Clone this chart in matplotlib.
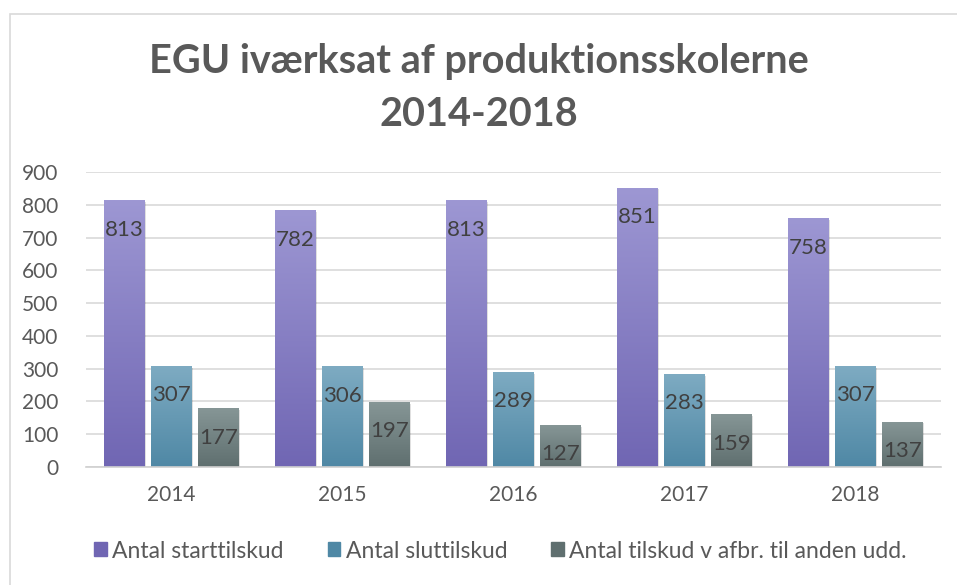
import numpy as np
import matplotlib.pyplot as plt
from matplotlib.patches import Rectangle
from matplotlib.colors import LinearSegmentedColormap

# Data
aar = ['2014', '2015', '2016', '2017', '2018']
starttilskud = [813, 782, 813, 851, 758]
sluttilskud = [307, 306, 289, 283, 307]
afbrudt = [177, 197, 127, 159, 137]
serier = ['Antal starttilskud', 'Antal sluttilskud', 'Antal tilskud v afbr. til anden udd.']

# (top colour, bottom colour)
farver = [('#9d97d3', '#7066b3'), ('#7eabc2', '#4f88a5'), ('#869696', '#5f6f6f')]

plt.rcParams['font.family'] = ['Lato', 'DejaVu Sans']

fig = plt.figure(figsize=(9.57, 5.85), dpi=100)
# outer chart frame
fig.patches.append(Rectangle((10 / 957, -0.1), 1.2, 1.1 - 14 / 585, transform=fig.transFigure,
                             fill=False, edgecolor='#d9d9d9', linewidth=1.2))
ax = fig.add_axes([86 / 957, 1 - 467 / 585, (941 - 86) / 957, (467 - 172) / 585])

x = np.arange(len(aar))
bredde = 0.235
afstand = 0.275
gradient = np.linspace(1, 0, 256).reshape(-1, 1)

for i, (vaerdier, navn, (top, bund)) in enumerate(zip([starttilskud, sluttilskud, afbrudt], serier, farver)):
    bars = ax.bar(x + (i - 1) * afstand, vaerdier, bredde, color=bund, label=navn, zorder=2)
    cmap = LinearSegmentedColormap.from_list('g%d' % i, [bund, top])
    for b, v in zip(bars, vaerdier):
        x0, y0 = b.get_x(), b.get_y()
        w, h = b.get_width(), b.get_height()
        # soft shadow
        ax.add_patch(Rectangle((x0 + 0.01, y0 - 4), w, h, facecolor='#000000', alpha=0.12,
                               linewidth=0, zorder=1.5))
        ax.imshow(gradient, extent=(x0, x0 + w, y0, y0 + h), cmap=cmap, aspect='auto',
                  zorder=2.5, origin='upper', vmin=0, vmax=1)
        ax.annotate(str(v), (x0 + w / 2, v), xytext=(0, -19), textcoords='offset pixels',
                    ha='center', va='top', fontsize=16, color='#404040', zorder=3)

ax.set_xlim(-0.5, len(aar) - 0.5)
ax.set_ylim(0, 900)
ax.set_yticks(range(0, 901, 100))
ax.set_xticks(x)
ax.set_xticklabels(aar)
ax.yaxis.grid(True, color='#d9d9d9', linewidth=1.2, zorder=0)
ax.set_axisbelow(True)
for s in ['top', 'right', 'left']:
    ax.spines[s].set_visible(False)
ax.spines['bottom'].set_color('#d0d0d0')
ax.spines['bottom'].set_linewidth(1.2)
ax.tick_params(axis='both', length=0, labelsize=15, colors='#595959')
ax.tick_params(axis='y', pad=20)
ax.tick_params(axis='x', pad=13)

fig.text(0.5, 1 - 88 / 585, 'EGU iværksat af produktionsskolerne\n2014-2018', ha='center', va='center',
         fontsize=28.5, fontweight='bold', color='#595959', linespacing=1.55)

handles, labels = ax.get_legend_handles_labels()
leg = fig.legend(handles, labels, loc='center', bbox_to_anchor=(0.523, 1 - 551 / 585), ncol=3,
                 frameon=False, fontsize=16.5, handlelength=0.55, handleheight=0.55,
                 handletextpad=0.25, columnspacing=1.9, labelcolor='#595959')
for h, (top, bund) in zip(leg.legend_handles, farver):
    h.set_color(bund)

fig.savefig('out.png', dpi=100)
